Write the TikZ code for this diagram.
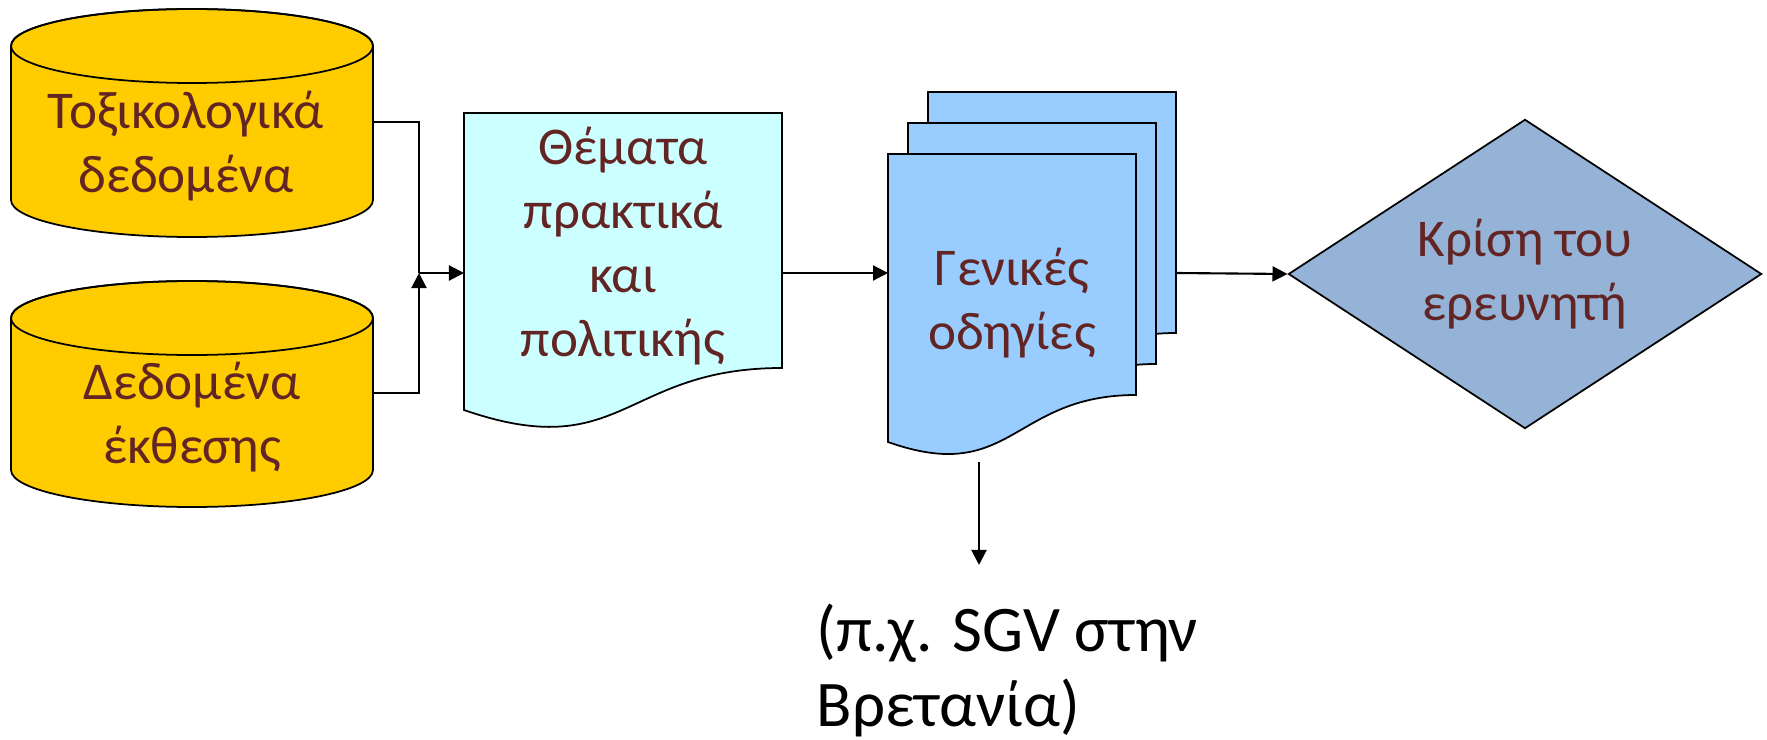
\documentclass[tikz,border=0pt]{standalone}
\usepackage{fontspec}
\setmainfont{Carlito}
\usetikzlibrary{arrows.meta,shapes.geometric}
\definecolor{gold}{RGB}{255,204,0}
\definecolor{paleaqua}{RGB}{204,255,255}
\definecolor{skyblue}{RGB}{153,204,255}
\definecolor{steel}{RGB}{149,179,215}
\definecolor{inkred}{RGB}{99,37,35}
\tikzstyle{outline} = [draw=black, line width=0.5pt]
\tikzstyle{boxtext} = [text=inkred, align=center, inner sep=0pt,
                 font=\fontsize{15.1}{18.2}\selectfont]
\tikzstyle{flow} = [-{Triangle[length=1.5mm,width=1.5mm]}, line width=0.6pt]

\begin{document}
\begin{tikzpicture}[x=0.01cm,y=0.01cm]
\useasboundingbox (0,0) rectangle (1767,739);

    	%data stores
\foreach \yt/\yb in {693/539, 421/269}{
	\filldraw[outline,fill=gold] (11,\yt) -- (11,\yb)
		arc[start angle=180,end angle=360,x radius=181,y radius=37] -- (373,\yt)
		arc[start angle=0,end angle=180,x radius=181,y radius=37] -- cycle;
	\draw[outline] (192,\yt) ellipse[x radius=181,y radius=37];
}
\node[boxtext] (tox) at (186,593) {Τοξικολογικά\\δεδομένα};
\node[boxtext] (expo) at (192,322) {Δεδομένα\\έκθεσης};

    	%document
\filldraw[outline,fill=paleaqua] (464,626) -- (782,626) -- (782,371)
	.. controls (623,371) and (623,274) .. (464,329) -- cycle;
\node[boxtext] (issues) at (623,493) {Θέματα\\πρακτικά\\και\\πολιτικής};

    	%stack of documents
\foreach \k in {2,1,0}
	\filldraw[outline,fill=skyblue,shift={(20*\k,31*\k)}] (888,585) -- (1136,585) -- (1136,344)
		.. controls (1012,344) and (1012,253) .. (888,297) -- cycle;
\node[boxtext] (guide) at (1012,436) {Γενικές\\οδηγίες};

\node[outline, fill=steel, diamond, aspect=1.53, minimum width=4.73cm,
	minimum height=3.09cm, boxtext] (judge) at (1525,465) {Κρίση του\\ερευνητή};

\node[font=\fontsize{18.5}{21.3}\selectfont, align=left, inner sep=0pt,
	anchor=north west] (sgv) at (816,136) {(π.χ. SGV στην\\Βρετανία)};

    	%connectors
\coordinate (tox out) at (373,617);
\coordinate (expo out) at (373,346);
\coordinate (merge) at (419,466);
\coordinate (issues in) at (464,466);
\coordinate (issues out) at (782,466);
\coordinate (guide in) at (888,466);
\coordinate (guide out) at (1176,466);
\coordinate (guide foot) at (979,277);

\draw[line width=0.6pt] (tox out) -| (merge);
\draw[flow] (expo out) -| (merge);
\draw[flow] (merge) -- (issues in);
\draw[flow] (issues out) -- (guide in);
\draw[flow] (guide out) -- (judge.west);
\draw[flow, shorten >=0.38cm] (guide foot) -- (guide foot |- sgv.north);

\end{tikzpicture}
\end{document}
